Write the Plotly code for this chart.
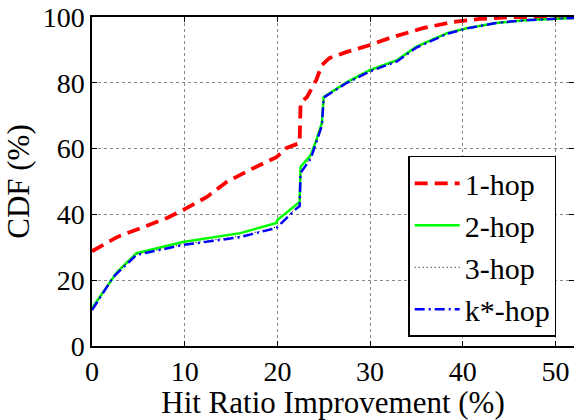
import plotly.graph_objects as go

# ---- data ----
hop1_x = [0, 2.7, 5.2, 8.1, 10.2, 12.4, 14.5, 17.0, 19.9, 21.0, 22.4, 22.5, 23.2, 24.2, 24.8, 25.6, 27.5, 30.0, 32.1, 35.7, 38.9, 41.8, 45.4, 52]
hop1_y = [28.8, 33.1, 35.8, 38.9, 41.9, 45.3, 49.8, 53.5, 57.4, 60.2, 61.7, 73.9, 75.7, 80.9, 85.4, 87.5, 89.4, 91.5, 93.6, 96.6, 98.5, 99.4, 100, 100]

hop2_x = [0, 2.7, 4.8, 9.8, 16.0, 19.9, 20.0, 22.4, 22.5, 23.6, 24.2, 24.8, 25.0, 27.5, 30.0, 32.9, 35.0, 38.3, 40.4, 43.6, 47.2, 52]
hop2_y = [11.5, 22.5, 28.2, 31.6, 34.3, 37.4, 38.3, 43.8, 54.4, 58.0, 62.6, 67.8, 75.7, 80.2, 83.9, 86.9, 91.0, 95.1, 96.6, 98.2, 99.1, 99.7]

hop3_x = [0, 2.4, 4.8, 9.8, 16.0, 19.9, 22.1, 22.4, 22.5, 23.6, 24.2, 24.8, 25.0, 27.5, 30.0, 32.9, 35.0, 38.3, 40.4, 43.6, 47.2, 52]
hop3_y = [11.0, 21.5, 27.9, 30.9, 33.4, 36.2, 42.1, 42.7, 53.0, 57.3, 62.2, 67.3, 75.6, 80.0, 83.6, 86.6, 90.8, 94.9, 96.5, 98.2, 99.1, 99.7]

kstar_x = [0, 2.3, 4.8, 9.8, 16.0, 19.9, 22.1, 22.4, 22.5, 23.6, 24.2, 24.8, 25.0, 27.5, 30.0, 32.9, 35.0, 38.3, 40.4, 43.6, 47.2, 52]
kstar_y = [10.9, 21.0, 27.7, 30.7, 33.1, 35.9, 41.9, 42.5, 52.6, 57.0, 62.0, 67.0, 75.5, 80.0, 83.5, 86.5, 90.7, 94.9, 96.5, 98.2, 99.1, 99.7]

x_ticks = [0, 10, 20, 30, 40, 50]
y_ticks = [0, 20, 40, 60, 80, 100]

FONT = "Liberation Serif, Times New Roman, serif"

fig = go.Figure()
fig.add_trace(go.Scatter(x=hop1_x, y=hop1_y, mode="lines", name="1-hop",
                         line=dict(color="#ff0000", width=3.8, dash="13px,7px")))
fig.add_trace(go.Scatter(x=hop2_x, y=hop2_y, mode="lines", name="2-hop",
                         line=dict(color="#00ff00", width=2.5)))
fig.add_trace(go.Scatter(x=hop3_x, y=hop3_y, mode="lines", name="3-hop",
                         line=dict(color="#000000", width=1, dash="1px,3px")))
fig.add_trace(go.Scatter(x=kstar_x, y=kstar_y, mode="lines", name="k*-hop",
                         line=dict(color="#0000ff", width=2.5, dash="10px,4px,2px,4px")))

axis_common = dict(
    showline=True, linecolor="black", linewidth=1.5, mirror="ticks",
    ticks="inside", ticklen=5, tickwidth=1, tickcolor="black",
    showgrid=True, gridcolor="#888888", griddash="dot", gridwidth=1,
    zeroline=False, automargin=False, ticklabeloverflow="allow",
    tickfont=dict(family=FONT, size=28, color="black"),
)

fig.update_xaxes(range=[0, 52], tickvals=x_ticks,
                 title=dict(text="Hit Ratio Improvement (%)", font=dict(family=FONT, size=31, color="black"), standoff=2),
                 **axis_common)
fig.update_yaxes(range=[0, 100], tickvals=y_ticks,
                 title=dict(text="CDF (%)", font=dict(family=FONT, size=31, color="black"), standoff=4),
                 **axis_common)

fig.update_layout(
    width=574, height=420,
    margin=dict(l=92, r=0, t=17, b=74),
    paper_bgcolor="white", plot_bgcolor="white",
    showlegend=True,
    legend=dict(x=0.656, y=0.578, xanchor="left", yanchor="top",
                bgcolor="white", bordercolor="black", borderwidth=1.5,
                font=dict(family=FONT, size=30, color="black"),
                itemwidth=45, tracegroupgap=0),
)

# remove the default 8px page margin so the figure fills the window exactly
fig.write_html("out.html", config={"displayModeBar": False},
               post_script="document.body.style.margin='0px';")
